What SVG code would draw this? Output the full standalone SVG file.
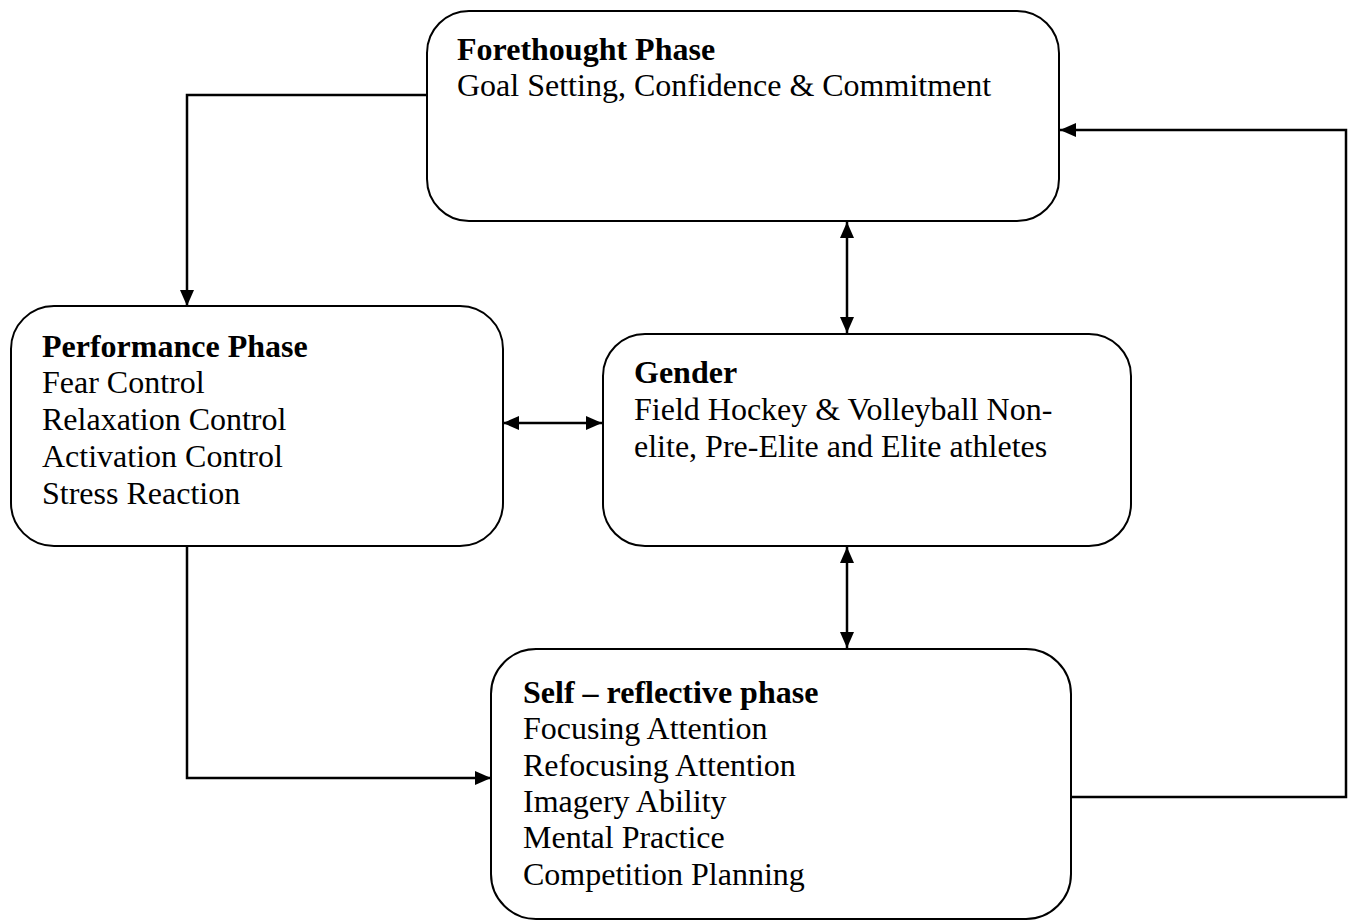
<svg xmlns="http://www.w3.org/2000/svg" width="1349" height="922" viewBox="0 0 1349 922">
<style>
.box{fill:#fff;stroke:#000;stroke-width:2}
.t{font-family:"Liberation Serif","Times New Roman",serif;font-size:32px;fill:#000}
.b{font-weight:bold}
.c{fill:none;stroke:#000;stroke-width:2.5}
</style>
<defs>
<marker id="ah" markerUnits="userSpaceOnUse" markerWidth="16" markerHeight="14" viewBox="0 0 16 14" refX="16" refY="7" orient="auto-start-reverse">
<path d="M0,0 L16,7 L0,14 Z" fill="#000"/>
</marker>
</defs>
<rect width="1349" height="922" fill="#fff"/>
<g id="connectors">
<polyline class="c" points="427,95 187,95 187,306" marker-end="url(#ah)"/>
<line class="c" x1="847" y1="222" x2="847" y2="333" marker-start="url(#ah)" marker-end="url(#ah)"/>
<line class="c" x1="503" y1="423" x2="602" y2="423" marker-start="url(#ah)" marker-end="url(#ah)"/>
<line class="c" x1="847" y1="547" x2="847" y2="648" marker-start="url(#ah)" marker-end="url(#ah)"/>
<polyline class="c" points="187,547 187,778 491,778" marker-end="url(#ah)"/>
<polyline class="c" points="1071,797 1346,797 1346,130 1060,130" marker-end="url(#ah)"/>
</g>
<g id="forethought">
<rect class="box" x="427" y="11" width="632" height="210" rx="42" ry="42"/>
<text class="t b" x="457" y="60">Forethought Phase</text>
<text class="t" x="457" y="96">Goal Setting, Confidence &amp; Commitment</text>
</g>
<g id="performance">
<rect class="box" x="11" y="306" width="492" height="240" rx="43" ry="43"/>
<text class="t b" x="42" y="357">Performance Phase</text>
<text class="t" x="42" y="393">Fear Control</text>
<text class="t" x="42" y="430">Relaxation Control</text>
<text class="t" x="42" y="467">Activation Control</text>
<text class="t" x="42" y="504">Stress Reaction</text>
</g>
<g id="gender">
<rect class="box" x="603" y="334" width="528" height="212" rx="42" ry="42"/>
<text class="t b" x="634" y="383">Gender</text>
<text class="t" x="634" y="420">Field Hockey &amp; Volleyball Non-</text>
<text class="t" x="634" y="457">elite, Pre-Elite and Elite athletes</text>
</g>
<g id="selfreflective">
<rect class="box" x="491" y="649" width="580" height="270" rx="45" ry="45"/>
<text class="t b" x="523" y="703">Self – reflective phase</text>
<text class="t" x="523" y="739">Focusing Attention</text>
<text class="t" x="523" y="776">Refocusing Attention</text>
<text class="t" x="523" y="812">Imagery Ability</text>
<text class="t" x="523" y="848">Mental Practice</text>
<text class="t" x="523" y="885">Competition Planning</text>
</g>
</svg>
